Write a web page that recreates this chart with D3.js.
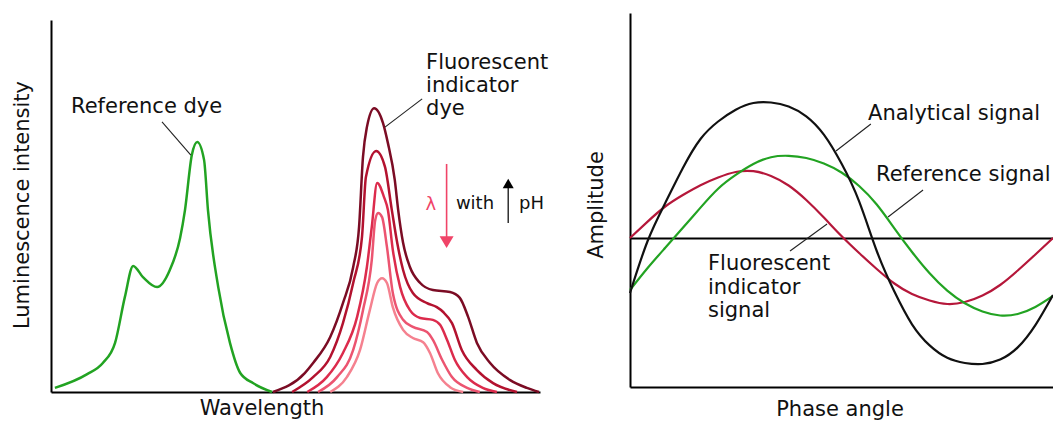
<!DOCTYPE html>
<html>
<head>
<meta charset="utf-8">
<script src="https://cdn.jsdelivr.net/npm/d3@7"></script>
<style>
  body { margin: 0; background: #fff; }
  svg { display: block; font-family: "DejaVu Sans", sans-serif; }
</style>
</head>
<body>
<svg id="chart" width="1053" height="421"></svg>
<script>
// ---- left panel: emission spectra, [wavelength (0-100 a.u.), intensity (0-100 a.u.)]
const referenceDye = [
  [0.8, 1.1], [7.4, 4.8], [10.6, 7.8], [13.1, 13.2], [15.1, 25.5], [16.8, 33.9],
  [18.8, 30.9], [21.7, 28.2], [24.3, 32.8], [26.4, 41.4], [27.4, 48.9], [28.8, 63.7],
  [29.9, 67.2], [31.3, 62.4], [32.1, 48.9], [34.2, 28.2], [36.6, 13.2], [38.7, 5.1],
  [41.3, 2.4], [45.2, 0]
];
// indicator dye, one spectrum per pH step (lowest pH first)
const indicatorPh1 = [
  [45.4, 0], [51.9, 5.1], [53.6, 7.8], [57.1, 14.8], [59.7, 23.9], [61.8, 33.6],
  [63.0, 44.4], [63.8, 63.2], [64.6, 71.2], [66.1, 76.3], [67.9, 72.3], [68.9, 66.9],
  [70.3, 57.0], [71.0, 48.9], [72.0, 40.1], [73.4, 33.6], [75.5, 29.3], [78.1, 27.4],
  [81.6, 26.9], [83.6, 25.3], [85.3, 20.2], [87.1, 13.2], [89.8, 7.8], [93.9, 3.2],
  [97.3, 1.1], [99.8, 0]
];
const indicatorPh2 = [
  [49.3, 0], [53.6, 4.0], [57.1, 9.4], [59.7, 18.5], [61.8, 29.3], [63.6, 41.7],
  [64.4, 57.8], [66.5, 64.8], [68.3, 60.5], [69.7, 48.9], [70.8, 40.1], [72.0, 32.8],
  [74.0, 26.6], [76.9, 23.9], [78.9, 22.8], [80.2, 21.5], [82.0, 18.5], [84.0, 11.3],
  [87.1, 5.9], [90.4, 2.4], [95.3, 0]
];
const indicatorPh3 = [
  [52.4, 0], [56.4, 4.0], [59.7, 10.5], [62.6, 20.2], [64.6, 33.6], [65.6, 44.4],
  [66.7, 56.2], [68.1, 52.4], [68.9, 48.9], [69.9, 38.2], [71.4, 28.2], [73.4, 22.0],
  [75.5, 19.9], [78.1, 19.4], [79.6, 18.0], [81.0, 14.0], [82.6, 8.6], [85.1, 4.0],
  [88.3, 1.1], [91.2, 0]
];
const indicatorPh4 = [
  [54.6, 0], [58.5, 4.0], [61.8, 11.3], [63.8, 22.0], [65.6, 35.5], [66.3, 46.2],
  [66.9, 48.1], [67.7, 47.0], [68.7, 39.0], [69.9, 26.6], [72.0, 19.4], [74.0, 17.5],
  [76.9, 16.1], [78.1, 14.0], [80.0, 8.6], [82.0, 4.0], [85.1, 1.1], [87.7, 0]
];
const indicatorPh5 = [
  [57.1, 0], [60.5, 4.0], [63.2, 11.3], [65.2, 22.0], [66.7, 29.3], [67.7, 30.6],
  [68.7, 29.3], [69.9, 22.8], [72.0, 16.7], [74.0, 14.5], [76.1, 13.4], [77.5, 10.5],
  [79.1, 5.1], [81.6, 1.3], [84.3, 0]
];
const indicatorSpectra = [indicatorPh1, indicatorPh2, indicatorPh3, indicatorPh4, indicatorPh5];
const indicatorColors = ['#7b0c24', '#b3122f', '#dc2b4c', '#ec5470', '#f5818f'];

// ---- right panel: signals read every 15 deg of phase, amplitude in a.u.
const phaseAngles = [0, 15, 30, 45, 60, 75, 90, 105, 120, 135, 150, 165, 180,
  195, 210, 225, 240, 255, 270, 285, 300, 315, 330, 345, 360];
const analyticalSignal = [-0.55, -0.03, 0.35, 0.70, 0.99, 1.165, 1.283, 1.35, 1.355,
  1.315, 1.216, 1.033, 0.744, 0.366, -0.13, -0.536, -0.863, -1.074, -1.198, -1.25,
  -1.26, -1.216, -1.094, -0.871, -0.57];
const referenceSignal = [-0.52, -0.30, -0.098, 0.102, 0.304, 0.493, 0.631, 0.74, 0.808,
  0.822, 0.80, 0.745, 0.655, 0.52, 0.335, 0.097, -0.14, -0.353, -0.527, -0.653,
  -0.735, -0.775, -0.76, -0.69, -0.58];
const indicatorSignal = [0, 0.164, 0.315, 0.43, 0.528, 0.605, 0.66, 0.668, 0.62, 0.525,
  0.38, 0.205, 0.02, -0.15, -0.31, -0.455, -0.56, -0.625, -0.66, -0.64, -0.575,
  -0.47, -0.325, -0.165, 0];

const GREEN = '#22a322';
const CRIMSON = '#b5173a';
const PINK = '#f04468';
const FS = 21;

const svg = d3.select('#chart');

// ================= left panel =================
const xL = d3.scaleLinear().domain([0, 100]).range([51, 540]);
const yL = d3.scaleLinear().domain([0, 100]).range([392, 20]);
const left = svg.append('g');

const lineL = d3.line()
  .x(d => xL(d[0]))
  .y(d => yL(d[1]))
  .curve(d3.curveMonotoneX);

left.append('g')
  .attr('transform', `translate(${xL(0)},0)`)
  .call(d3.axisLeft(yL).ticks(0).tickSizeOuter(0))
  .call(g => g.select('.domain').attr('stroke-width', 2));
left.append('g')
  .attr('transform', `translate(0,${yL(0)})`)
  .call(d3.axisBottom(xL).ticks(0).tickSizeOuter(0))
  .call(g => g.select('.domain').attr('stroke-width', 2));

left.append('path')
  .datum(referenceDye)
  .attr('d', lineL)
  .attr('fill', 'none')
  .attr('stroke', GREEN)
  .attr('stroke-width', 2.5);

// draw lightest first so the dark (low pH) curve sits on top
left.selectAll('.ind')
  .data(indicatorSpectra.map((d, i) => ({d, i})).reverse())
  .join('path')
  .attr('class', 'ind')
  .attr('d', o => lineL(o.d))
  .attr('fill', 'none')
  .attr('stroke', o => indicatorColors[o.i])
  .attr('stroke-width', 2.5);

// leaders + labels
function leader(g, sx, sy, a, b) {
  g.append('line')
    .attr('x1', sx(a[0])).attr('y1', sy(a[1]))
    .attr('x2', sx(b[0])).attr('y2', sy(b[1]))
    .attr('stroke', '#222').attr('stroke-width', 1.1);
}
function label(g, x, y, lines, lh = 23) {
  const t = g.append('text')
    .attr('x', x).attr('y', y)
    .attr('font-size', FS).attr('fill', '#111');
  lines.forEach((s, i) => t.append('tspan').attr('x', x).attr('dy', i ? lh : 0).text(s));
}

leader(left, xL, yL, [22.7, 72.6], [28.6, 63.7]);
label(left, xL(4.1), yL(75.0), ['Reference dye']);
leader(left, xL, yL, [75.9, 78.8], [68.3, 71.2]);
label(left, xL(76.7), yL(86.8), ['Fluorescent', 'indicator', 'dye']);

// lambda shift arrow
const lx = xL(80.9);
left.append('line')
  .attr('x1', lx).attr('x2', lx)
  .attr('y1', yL(61.3)).attr('y2', yL(41.0))
  .attr('stroke', PINK).attr('stroke-width', 1.6);
left.append('path')
  .attr('d', `M${lx - 7},${yL(41.9)}L${lx + 7},${yL(41.9)}L${lx},${yL(38.7)}Z`)
  .attr('fill', PINK);
left.append('text')
  .attr('x', xL(77.7)).attr('y', yL(48.9))
  .attr('text-anchor', 'middle')
  .attr('font-size', 18).attr('fill', PINK)
  .text('λ');
left.append('text')
  .attr('x', xL(82.8)).attr('y', yL(49.2))
  .attr('font-size', 18).attr('fill', '#111')
  .text('with');
const px = xL(93.5);
left.append('line')
  .attr('x1', px).attr('x2', px)
  .attr('y1', yL(45.4)).attr('y2', yL(55.5))
  .attr('stroke', '#222').attr('stroke-width', 1.4);
left.append('path')
  .attr('d', `M${px - 5.5},${yL(54.8)}L${px + 5.5},${yL(54.8)}L${px},${yL(57.3)}Z`)
  .attr('fill', '#000');
left.append('text')
  .attr('x', xL(95.7)).attr('y', yL(49.2))
  .attr('font-size', 18).attr('fill', '#111')
  .text('pH');

left.append('text')
  .attr('x', 262).attr('y', 415)
  .attr('text-anchor', 'middle')
  .attr('font-size', FS).attr('fill', '#111')
  .text('Wavelength');
left.append('text')
  .attr('transform', 'translate(29,205) rotate(-90)')
  .attr('text-anchor', 'middle')
  .attr('font-size', FS).attr('fill', '#111')
  .text('Luminescence intensity');

// ================= right panel =================
const xR = d3.scaleLinear().domain([0, 360]).range([630, 1053]);
const yR = d3.scaleLinear().domain([-1.49, 2.25]).range([387, 13]);
const right = svg.append('g');

const lineR = d3.line()
  .x((d, i) => xR(phaseAngles[i]))
  .y(d => yR(d))
  .curve(d3.curveNatural);

right.append('g')
  .attr('transform', `translate(${xR(0)},0)`)
  .call(d3.axisLeft(yR).ticks(0).tickSizeOuter(0))
  .call(g => g.select('.domain').attr('stroke-width', 2));
right.append('g')
  .attr('transform', `translate(0,${yR(-1.49)})`)
  .call(d3.axisBottom(xR).ticks(0).tickSizeOuter(0))
  .call(g => g.select('.domain').attr('stroke-width', 2));
right.append('g')
  .attr('transform', `translate(0,${yR(0)})`)
  .call(d3.axisBottom(xR).ticks(0).tickSizeOuter(0))
  .call(g => g.select('.domain').attr('stroke-width', 1.8));

[[indicatorSignal, CRIMSON], [referenceSignal, GREEN], [analyticalSignal, '#111']]
  .forEach(([data, col]) => {
    right.append('path')
      .datum(data)
      .attr('d', lineR)
      .attr('fill', 'none')
      .attr('stroke', col)
      .attr('stroke-width', 2.2);
  });

leader(right, xR, yR, [205, 1.14], [175.3, 0.87]);
label(right, xR(202.6), yR(1.18), ['Analytical signal']);
leader(right, xR, yR, [249.4, 0.48], [219.6, 0.21]);
label(right, xR(209.4), yR(0.57), ['Reference signal']);
leader(right, xR, yR, [167.7, 0.14], [136.2, -0.13]);
label(right, xR(66.4), yR(-0.32), ['Fluorescent', 'indicator', 'signal'], 23.5);

right.append('text')
  .attr('x', 840).attr('y', 416)
  .attr('text-anchor', 'middle')
  .attr('font-size', FS).attr('fill', '#111')
  .text('Phase angle');
right.append('text')
  .attr('transform', 'translate(603,205) rotate(-90)')
  .attr('text-anchor', 'middle')
  .attr('font-size', FS).attr('fill', '#111')
  .text('Amplitude');
</script>
</body>
</html>
